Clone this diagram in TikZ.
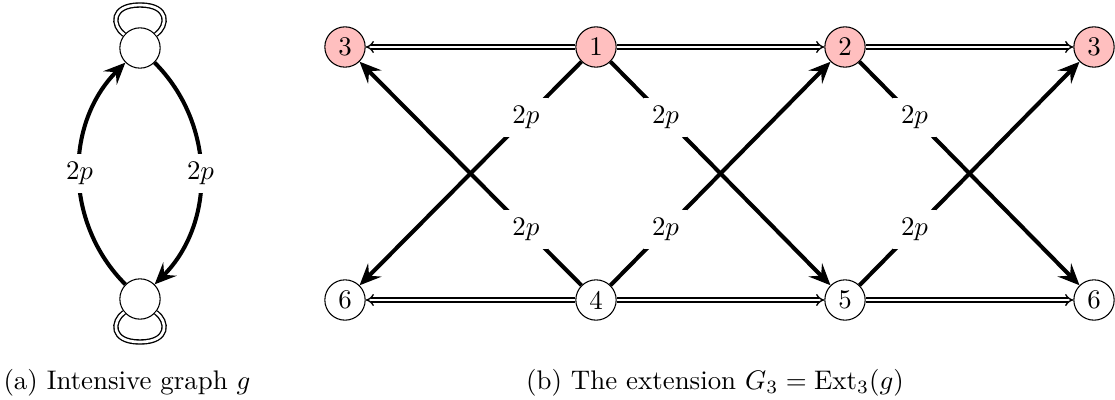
\documentclass[tikz,border=0pt]{standalone}
\usetikzlibrary{arrows.meta}
\begin{document}
\begin{tikzpicture}[x=0.372pt,y=-0.372pt,
  vtx/.style={circle,draw,line width=0.4pt,minimum size=15pt,inner sep=0pt,fill=white},
  hot/.style={vtx,fill=red!25},
  thk/.style={line width=1.5pt,-{Stealth[length=8pt,width=7pt,inset=3pt]}},
  dbl/.style={double,double distance=1pt,line width=0.5pt,-{Implies}},
  lpl/.style={double,double distance=1pt,line width=0.5pt},
  lbl/.style={fill=white,inner sep=3pt}]
\useasboundingbox (0,0) rectangle (1115,399);
% (a)
\node[vtx] (gt) at (140,48) {};
\node[vtx] (gb) at (140,299) {};
\draw[thk] (gb) to[bend left=45] node[lbl] {$2p$} (gt);
\draw[thk] (gt) to[bend left=45] node[lbl] {$2p$} (gb);
\draw[lpl] (gt.140) .. controls (112,26) and (110,5) .. (140,5) .. controls (170,5) and (168,26) .. (gt.40);
\draw[lpl] (gb.-140) .. controls (112,321) and (110,342) .. (140,342) .. controls (170,342) and (168,321) .. (gb.-40);
\node[anchor=west,inner sep=0pt] (capa) at (3,383) {(a) Intensive graph $g$};
% (b)
\node[hot] (a3) at (345,47) {3};
\node[hot] (a1) at (596,47) {1};
\node[hot] (a2) at (845,47) {2};
\node[hot] (b3) at (1094,47) {3};
\node[vtx] (a6) at (345,300) {6};
\node[vtx] (a4) at (596,300) {4};
\node[vtx] (a5) at (845,300) {5};
\node[vtx] (b6) at (1094,300) {6};
\draw[dbl] (a1) -- (a3);
\draw[dbl] (a1) -- (a2);
\draw[dbl] (a2) -- (b3);
\draw[dbl] (a4) -- (a6);
\draw[dbl] (a4) -- (a5);
\draw[dbl] (a5) -- (b6);
\draw[thk] (a1) -- node[lbl,pos=0.25] {$2p$} (a6);
\draw[thk] (a4) -- node[lbl,pos=0.25] {$2p$} (a3);
\draw[thk] (a1) -- node[lbl,pos=0.25] {$2p$} (a5);
\draw[thk] (a4) -- node[lbl,pos=0.25] {$2p$} (a2);
\draw[thk] (a2) -- node[lbl,pos=0.25] {$2p$} (b6);
\draw[thk] (a5) -- node[lbl,pos=0.25] {$2p$} (b3);
\node (capb) at (715,383) {(b) The extension $G_3=\mathrm{Ext}_3(g)$};
\end{tikzpicture}
\end{document}
